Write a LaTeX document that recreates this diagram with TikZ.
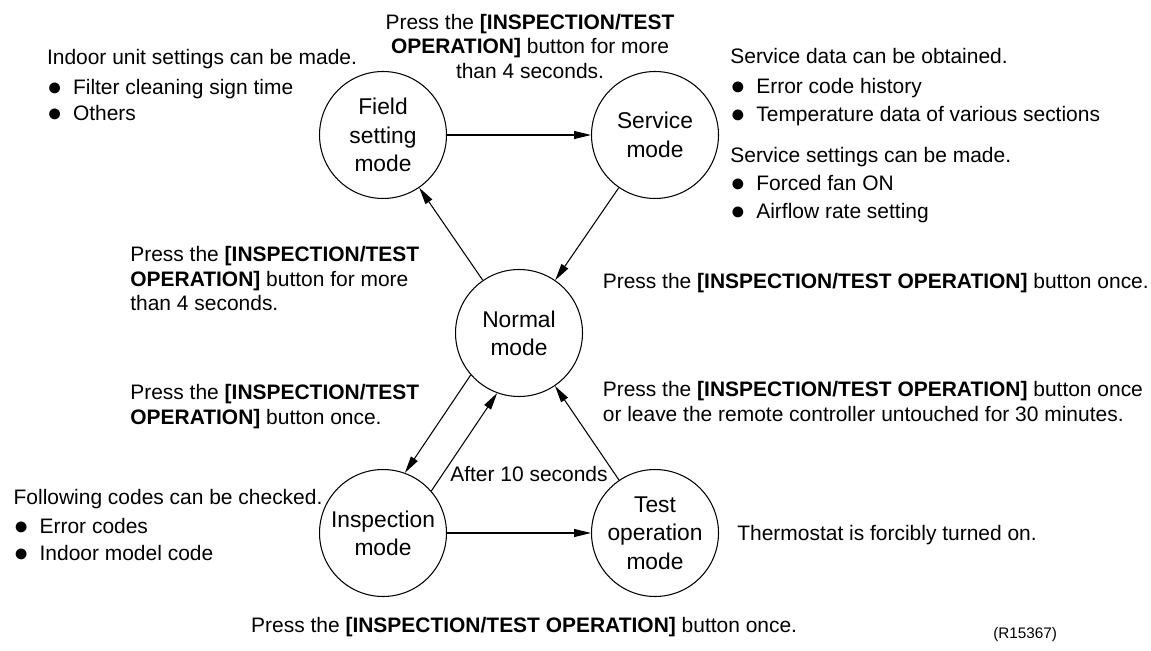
\documentclass[tikz,border=0pt]{standalone}
\usepackage{fontspec}
\usepackage{graphicx}
\setmainfont{Liberation Sans}
\usetikzlibrary{arrows.meta, positioning}
\newcommand{\blt}{\makebox[0.52cm][l]{\raisebox{-0.06em}{\scalebox{1.2}{●}}}}
\tikzset{
	modenode/.style={
			circle,
			draw=black,
			line width=0.6pt,
			minimum size=2.54cm,
			inner sep=0pt,
			align=center,
			font=\fontsize{12.97}{16.1}\selectfont
		},
	notenode/.style={
			anchor=base west,
			inner sep=0pt,
			align=left,
			font=\fontsize{11.93}{13.95}\selectfont
		},
	midnote/.style={
			notenode,
			anchor=base,
			align=center
		},
	refnode/.style={
			anchor=base west,
			inner sep=0pt,
			font=\fontsize{8.7}{10}\selectfont
		},
	flowarrow/.style={
			line width=0.6pt,
			-{Triangle[length=0.34cm,width=0.16cm]}
		}
}

\begin{document}
\begin{tikzpicture}[x=0.02cm, y=-0.02cm]
\useasboundingbox (0,0) rectangle (1151,651);
    \node[modenode] (field) at (383,135)  { Field\\setting\\mode };
    \node[modenode] (service) at (655,135)  { Service\\mode };
    \node[modenode] (normal) at (519,333)  { Normal\\mode };
    \node[modenode] (insp) at (383,533)  { Inspection\\mode };
    \node[modenode] (test) at (655,533)  { Test\\operation\\mode };

    % multi-line notes sit on the baseline of their last line
    \node[notenode] (indoor) at (46.7,120.5)  { Indoor unit settings can be made.\\[0.11cm]
        \blt Filter cleaning sign time\\[0.03cm]
        \blt Others };
    \node[midnote] (toppress) at (530,78.5)  { Press the \textbf{[INSPECTION/TEST}\\
        \textbf{OPERATION]} button for more\\than 4 seconds. };
    \node[notenode] (srvdata) at (730,218.5)  { Service data can be obtained.\\[0.1cm]
        \blt Error code history\\[0.07cm]
        \blt Temperature data of various sections\\[0.33cm]
        Service settings can be made.\\[0.07cm]
        \blt Forced fan ON\\[0.07cm]
        \blt Airflow rate setting };
    \node[notenode] (leftpress) at (130,310.7)  { Press the \textbf{[INSPECTION/TEST}\\
        \textbf{OPERATION]} button for more\\than 4 seconds. };
    \node[notenode] (rightpress) at (602.5,289)  { Press the \textbf{[INSPECTION/TEST OPERATION]} button once. };
    \node[notenode] (inspress) at (130,424.5)  { Press the \textbf{[INSPECTION/TEST}\\
        \textbf{OPERATION]} button once. };
    \node[notenode] (testpress) at (602.5,421.2)  { Press the \textbf{[INSPECTION/TEST OPERATION]} button once\\
        or leave the remote controller untouched for 30 minutes. };
    \node[notenode] (after) at (450,481.7)  { After 10 seconds };
    \node[notenode] (codes) at (13.3,560)  { Following codes can be checked.\\[0.08cm]
        \blt Error codes\\[0.04cm]
        \blt Indoor model code };
    \node[notenode] (thermo) at (737,540)  { Thermostat is forcibly turned on. };
    \node[midnote] (botpress) at (528,632)  { Press the \textbf{[INSPECTION/TEST OPERATION]} button once. };
    \node[refnode] (ref) at (993,638)  { (R15367) };

    \draw[flowarrow] (field) -- (service);
    \draw[flowarrow] (service) -- (normal);
    \draw[flowarrow] (normal) -- (field);

    \draw[flowarrow] (normal.221.2) -- (insp.70.4);
    \draw[flowarrow] (insp.41.2) -- (normal.250.4);
    \draw[flowarrow] (test) -- (normal);
    \draw[flowarrow] (insp) -- (test);

\end{tikzpicture}
\end{document}
